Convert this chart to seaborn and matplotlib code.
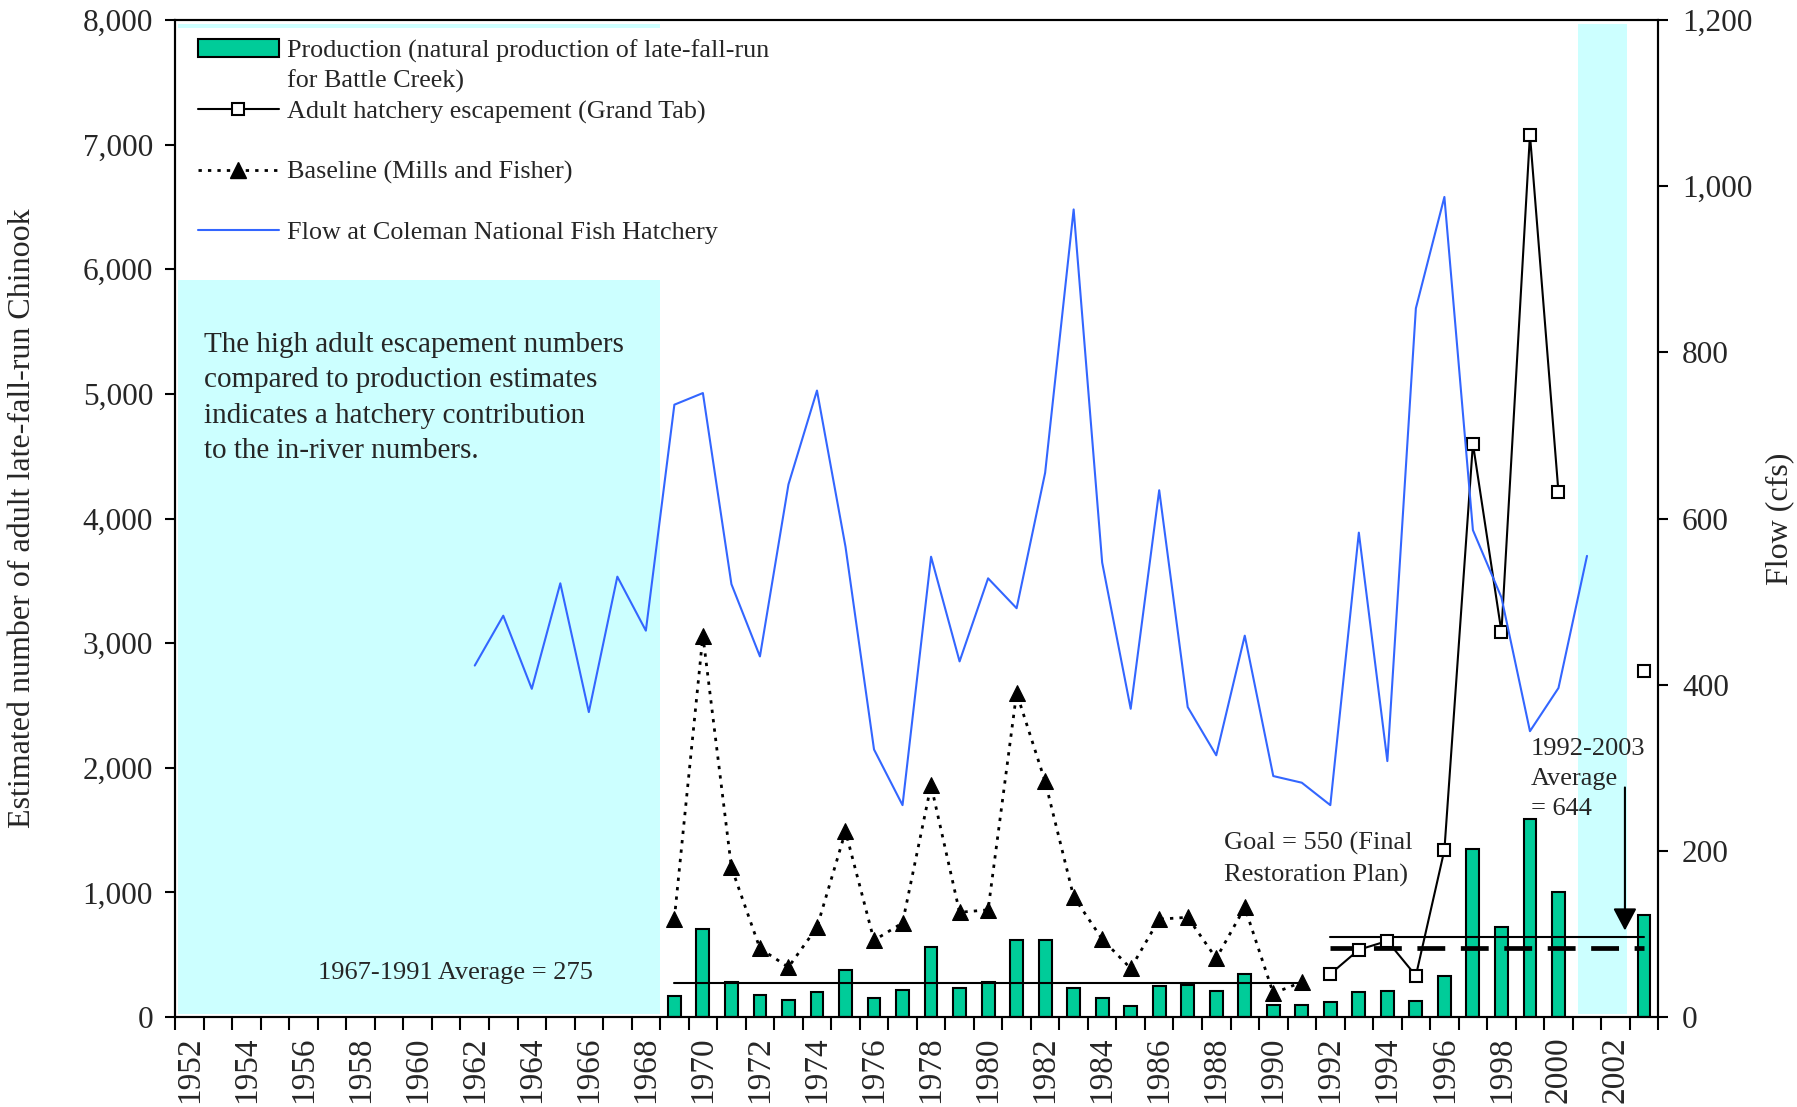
import numpy as np
import pandas as pd
import matplotlib
matplotlib.use("Agg")
import matplotlib.pyplot as plt
import seaborn as sns
from matplotlib.lines import Line2D
from matplotlib.patches import Patch
from matplotlib.ticker import FuncFormatter, FixedLocator

# Production (natural production of late-fall-run for Battle Creek)
prod_years = list(range(1969, 2001)) + [2003]
prod_vals = [170, 710, 280, 180, 135, 200, 375, 150, 215, 565, 230, 280, 615,
             615, 230, 150, 85, 245, 260, 210, 345, 100, 100, 120, 200, 210,
             130, 325, 1350, 725, 1590, 1000, 820]

# Adult hatchery escapement (Grand Tab)
esc_years = list(range(1992, 2001))
esc_vals = [345, 540, 610, 331, 1340, 4600, 3090, 7080, 4210]
esc_years_b = [2003]
esc_vals_b = [2780]

# Baseline (Mills and Fisher)
base_years = list(range(1969, 1992))
base_vals = [790, 3060, 1200, 550, 400, 720, 1490, 615, 755, 1860, 840, 860,
             2600, 1890, 965, 625, 390, 785, 800, 470, 880, 190, 280]

# Flow at Coleman National Fish Hatchery (cfs)
flow_years = list(range(1962, 2002))
flow_vals = [423, 483, 395, 522, 367, 530, 465, 737, 751, 521, 434, 641, 754,
             566, 322, 255, 554, 428, 528, 492, 655, 972, 547, 371, 634, 373,
             315, 459, 290, 282, 255, 583, 308, 853, 987, 586, 505, 344, 396,
             555]

# reference lines
avg_early, avg_early_span = 275, (1969, 1991)
avg_late, avg_late_span = 644, (1992, 2003)
goal, goal_span = 550, (1992, 2003)

# shaded areas: x0, x1, y0, y1
shade_regions = [(1951.6, 1968.5, 25, 5913),
                 (1951.6, 1968.5, 7935, 7968),
                 (2000.7, 2002.4, 25, 7968)]

GREEN = "#00CC99"
BLUE = "#3366FF"
CYAN = "#CCFFFF"

sns.set_style("white")
plt.rcParams['font.family'] = ['Liberation Serif', 'DejaVu Serif']
plt.rcParams['axes.edgecolor'] = 'black'

fig = plt.figure(figsize=(17.97, 11.07), dpi=100)
ax = fig.add_axes([0.09755, 0.0813, 0.82526, 0.90063])
ax2 = ax.twinx()

for x0, x1, y0, y1 in shade_regions:
    ax.fill_between([x0, x1], y0, y1, color=CYAN, lw=0, zorder=0)

sns.barplot(x=prod_years, y=prod_vals, native_scale=True, width=0.45,
            color=GREEN, saturation=1, edgecolor='black', linewidth=1.5,
            ax=ax, zorder=2)

ax.plot(avg_early_span, [avg_early] * 2, color='black', lw=1.5, zorder=3)
ax.plot(avg_late_span, [avg_late] * 2, color='black', lw=1.5, zorder=3)
ax.plot(goal_span, [goal] * 2, color='black', lw=3.4, zorder=3,
        dashes=(5.9, 3.3))

sns.lineplot(x=base_years, y=base_vals, ax=ax, color='black', lw=2,
             linestyle=(0, (1.2, 2.2)), marker='^', markersize=11,
             markerfacecolor='black', markeredgecolor='black', zorder=4)
sns.lineplot(x=esc_years, y=esc_vals, ax=ax, color='black', lw=1.5,
             marker='s', markersize=8, markerfacecolor='white',
             markeredgecolor='black', markeredgewidth=1.5, zorder=5)
sns.lineplot(x=esc_years_b, y=esc_vals_b, ax=ax, color='black', lw=1.5,
             marker='s', markersize=8, markerfacecolor='white',
             markeredgecolor='black', markeredgewidth=1.5, zorder=5)

sns.lineplot(x=flow_years, y=flow_vals, ax=ax2, color=BLUE, lw=1.5)

# annotations
ax.text(1952.5, 5500, "The high adult escapement numbers\ncompared to production estimates\n"
        "indicates a hatchery contribution\nto the in-river numbers.",
        fontsize=21, va='top', ha='left', linespacing=1.48)
ax.text(1961.34, 350, "1967-1991 Average = 275", fontsize=19, ha='center', va='center')
ax.text(1988.27, 1482, "Goal = 550 (Final\nRestoration Plan)", fontsize=19,
        ha='left', va='top', linespacing=1.46)
ax.text(1999.03, 2238, "1992-2003\nAverage\n= 644", fontsize=19,
        ha='left', va='top', linespacing=1.46)
ax.annotate("", xy=(2002.33, 694), xytext=(2002.33, 1842),
            arrowprops=dict(arrowstyle='-|>,head_length=0.68,head_width=0.36',
                            color='black', lw=1.5, shrinkA=0, shrinkB=0,
                            mutation_scale=20), zorder=6)

# axes
ax.set_xlim(1951.5, 2003.5)
ax.set_ylim(0, 8000)
ax2.set_ylim(0, 1200)
ax.xaxis.set_major_locator(FixedLocator(np.arange(1951.5, 2004, 1)))
ax.xaxis.set_minor_locator(FixedLocator(np.arange(1952, 2003, 2)))
ax.xaxis.set_major_formatter(FuncFormatter(lambda v, p: ""))
ax.xaxis.set_minor_formatter(FuncFormatter(lambda v, p: f"{v:.0f}"))
ax.tick_params(axis='x', which='major', direction='out', length=9.5, width=1.5,
               bottom=True, color='black')
ax.tick_params(axis='x', which='minor', length=0, pad=14, labelsize=24,
               labelrotation=90, bottom=True)
for lab in ax.get_xticklabels(minor=True):
    lab.set_va('top')

ax.set_yticks(np.arange(0, 8001, 1000))
ax.yaxis.set_major_formatter(FuncFormatter(lambda v, p: f"{v:,.0f}"))
ax.tick_params(axis='y', direction='out', length=7, width=1.5, pad=9,
               labelsize=22.5, left=True, color='black')
ax2.set_yticks(np.arange(0, 1201, 200))
ax2.yaxis.set_major_formatter(FuncFormatter(lambda v, p: f"{v:,.0f}"))
ax2.tick_params(axis='y', direction='out', length=7, width=1.5, pad=10,
                labelsize=22.5, right=True, color='black')

for a in (ax, ax2):
    for s in a.spines.values():
        s.set_color('black')
        s.set_linewidth(1.5)

ax.set_xlabel("")
ax.set_ylabel("Estimated number of adult late-fall-run Chinook", fontsize=23)
ax.yaxis.set_label_coords(-0.093, 0.5)
ax2.set_ylabel("Flow (cfs)", fontsize=23)
ax2.yaxis.set_label_coords(1.072, 0.5)

# legend (blank rows keep the original spacing)
blank = Line2D([], [], linestyle='none')
handles = [
    Patch(facecolor=GREEN, edgecolor='black', linewidth=1.5),
    blank,
    Line2D([], [], color='black', lw=1.5, marker='s', markersize=8,
           markerfacecolor='white', markeredgecolor='black', markeredgewidth=1.5),
    blank,
    Line2D([], [], color='black', lw=2, linestyle=(0, (1.2, 2.2)), marker='^',
           markersize=11, markerfacecolor='black'),
    blank,
    Line2D([], [], color=BLUE, lw=1.5),
]
labels = ["Production (natural production of late-fall-run",
          "for Battle Creek)",
          "Adult hatchery escapement (Grand Tab)",
          " ",
          "Baseline (Mills and Fisher)",
          " ",
          "Flow at Coleman National Fish Hatchery"]
leg = ax.legend(handles, labels, loc='upper left', bbox_to_anchor=(0.0153, 0.981),
                frameon=False, fontsize=18.8, borderpad=0, borderaxespad=0,
                handlelength=3.1, handletextpad=0.3, labelspacing=0.26)
leg.set_zorder(10)

fig.savefig("out.png", dpi=100)
